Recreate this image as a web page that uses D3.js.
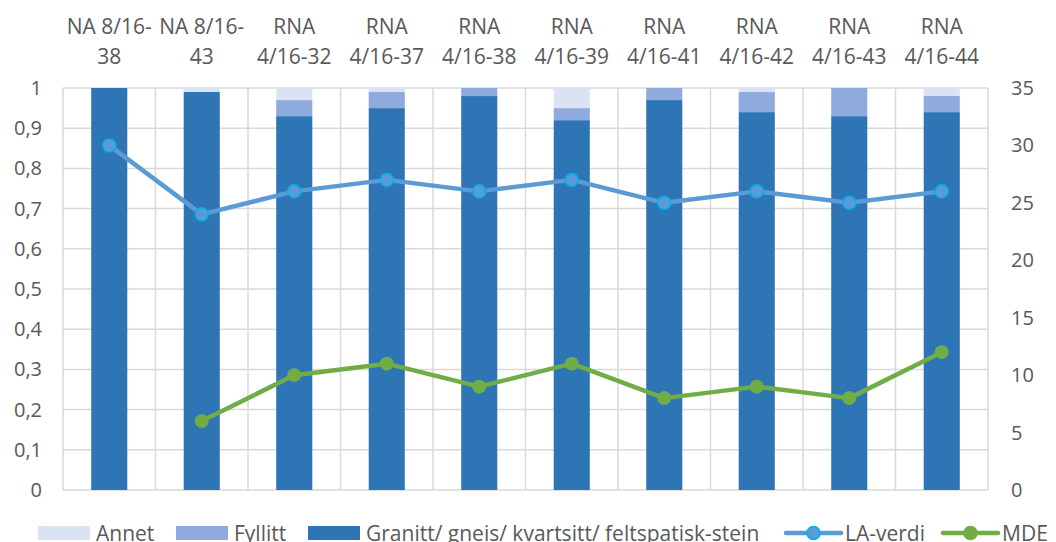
<!DOCTYPE html>
<html>
<head>
<meta charset="utf-8">
<script src="https://cdn.jsdelivr.net/npm/d3@7"></script>
<style>
  body { margin: 0; background: #fff; }
  svg text { font-family: "Open Sans", "Noto Sans", sans-serif; fill: #595959; }
</style>
</head>
<body>
<div id="chart"></div>
<script>
const categories = ['NA 8/16-38', 'NA 8/16-43', 'RNA 4/16-32', 'RNA 4/16-37', 'RNA 4/16-38',
  'RNA 4/16-39', 'RNA 4/16-41', 'RNA 4/16-42', 'RNA 4/16-43', 'RNA 4/16-44']
const labelLines = [['NA 8/16-', '38'], ['NA 8/16-', '43'], ['RNA', '4/16-32'], ['RNA', '4/16-37'],
  ['RNA', '4/16-38'], ['RNA', '4/16-39'], ['RNA', '4/16-41'], ['RNA', '4/16-42'], ['RNA', '4/16-43'], ['RNA', '4/16-44']]

const granitt = [1.0, 0.99, 0.93, 0.95, 0.98, 0.92, 0.97, 0.94, 0.93, 0.94]
const fyllitt = [0, 0, 0.04, 0.04, 0.02, 0.03, 0.03, 0.05, 0.07, 0.04]
const annet = [0, 0.01, 0.03, 0.01, 0, 0.05, 0, 0.01, 0, 0.02]
const laVerdi = [30, 24, 26, 27, 26, 27, 25, 26, 25, 26]
const mde = [null, 6, 10, 11, 9, 11, 8, 9, 8, 12]

const leftTicks = [0, 0.1, 0.2, 0.3, 0.4, 0.5, 0.6, 0.7, 0.8, 0.9, 1]
const rightTicks = [0, 5, 10, 15, 20, 25, 30, 35]

const width = 1056, height = 542
const margin = { top: 88, right: 68, bottom: 52, left: 63 }

const svg = d3.select('#chart').append('svg')
  .attr('width', width)
  .attr('height', height)

const x = d3.scaleBand()
  .domain(categories)
  .range([margin.left, width - margin.right])
  .paddingInner(0.61)
  .paddingOuter(0.305)

const bands = d3.scaleBand()
  .domain(categories)
  .range([margin.left, width - margin.right])

const y = d3.scaleLinear().domain([0, 1]).range([height - margin.bottom, margin.top])
const y2 = d3.scaleLinear().domain([0, 35]).range([height - margin.bottom, margin.top])

const grid = svg.append('g')
grid.selectAll('.h')
  .data(leftTicks)
  .enter()
  .append('line')
  .attr('x1', margin.left)
  .attr('x2', width - margin.right)
  .attr('y1', d => y(d))
  .attr('y2', d => y(d))
  .attr('stroke', '#d9d9d9')
  .attr('stroke-width', 1.5)

const bounds = categories.map(c => bands(c)).concat([width - margin.right])
grid.selectAll('.v')
  .data(bounds)
  .enter()
  .append('line')
  .attr('x1', d => d)
  .attr('x2', d => d)
  .attr('y1', margin.top)
  .attr('y2', y(0))
  .attr('stroke', '#d9d9d9')
  .attr('stroke-width', 1.5)

// stacked bars
const rows = categories.map((c, i) => ({ cat: c, granitt: granitt[i], fyllitt: fyllitt[i], annet: annet[i] }))
const keys = ['granitt', 'fyllitt', 'annet']
const colors = { granitt: '#2e75b6', fyllitt: '#8faadc', annet: '#dae3f3' }
const stack = d3.stack().keys(keys)(rows)

svg.append('g').selectAll('g')
  .data(stack)
  .enter()
  .append('g')
  .attr('fill', d => colors[d.key])
  .selectAll('rect')
  .data(d => d)
  .enter()
  .append('rect')
  .attr('x', d => x(d.data.cat))
  .attr('width', x.bandwidth())
  .attr('y', d => y(d[1]))
  .attr('height', d => y(d[0]) - y(d[1]))

// axes labels
svg.append('g').selectAll('text')
  .data(leftTicks)
  .enter()
  .append('text')
  .attr('x', 42)
  .attr('y', d => y(d))
  .attr('dy', '0.35em')
  .attr('text-anchor', 'end')
  .style('font-size', '20px')
  .text(d => d3.format('.1f')(d).replace('.', ',').replace(/^0,0$/, '0').replace(/^1,0$/, '1'))

svg.append('g').selectAll('text')
  .data(rightTicks)
  .enter()
  .append('text')
  .attr('x', 1011)
  .attr('y', d => y2(d))
  .attr('dy', '0.35em')
  .attr('text-anchor', 'start')
  .style('font-size', '20px')
  .text(d => d)

// category labels on top
const topLabels = svg.append('g')
categories.forEach((c, i) => {
  const t = topLabels.append('text')
    .attr('x', bands(c) + bands.bandwidth() / 2)
    .attr('text-anchor', 'middle')
    .style('font-size', '21px')
  labelLines[i].forEach((l, j) => {
    t.append('tspan')
      .attr('x', bands(c) + bands.bandwidth() / 2)
      .attr('y', 34 + j * 29.5)
      .text(l)
  })
})

// lines
const cx = c => x(c) + x.bandwidth() / 2

const laLine = d3.line()
  .x((d, i) => cx(categories[i]))
  .y(d => y2(d))

svg.append('path')
  .attr('d', laLine(laVerdi))
  .attr('fill', 'none')
  .attr('stroke', '#5b9bd5')
  .attr('stroke-width', 4.5)
  .attr('stroke-linejoin', 'round')

svg.append('g').selectAll('circle')
  .data(laVerdi)
  .enter()
  .append('circle')
  .attr('cx', (d, i) => cx(categories[i]))
  .attr('cy', d => y2(d))
  .attr('r', 6.5)
  .attr('fill', '#5b9bd5')
  .attr('stroke', '#00b0f0')
  .attr('stroke-width', 1.5)

const mdeLine = d3.line()
  .defined(d => d != null)
  .x((d, i) => cx(categories[i]))
  .y(d => y2(d))

svg.append('path')
  .attr('d', mdeLine(mde))
  .attr('fill', 'none')
  .attr('stroke', '#70ad47')
  .attr('stroke-width', 4.5)
  .attr('stroke-linejoin', 'round')

svg.append('g').selectAll('circle')
  .data(mde.map((v, i) => ({ v, i })).filter(d => d.v != null))
  .enter()
  .append('circle')
  .attr('cx', d => cx(categories[d.i]))
  .attr('cy', d => y2(d.v))
  .attr('r', 7)
  .attr('fill', '#70ad47')

// legend
const legend = svg.append('g')
const swatches = [
  { name: 'Annet', color: '#dae3f3', x: 38 },
  { name: 'Fyllitt', color: '#8faadc', x: 176 },
  { name: 'Granitt/ gneis/ kvartsitt/ feltspatisk-stein', color: '#2e75b6', x: 308 }
]
swatches.forEach(s => {
  legend.append('rect')
    .attr('x', s.x).attr('y', 526).attr('width', 52).attr('height', 14)
    .attr('fill', s.color)
  legend.append('text')
    .attr('x', s.x + 58).attr('y', 541)
    .style('font-size', '21px')
    .text(s.name)
})

const lineItems = [
  { name: 'LA-verdi', color: '#5b9bd5', stroke: '#00b0f0', x: 786 },
  { name: 'MDE', color: '#70ad47', stroke: '#70ad47', x: 943 }
]
lineItems.forEach(s => {
  legend.append('line')
    .attr('x1', s.x).attr('x2', s.x + 55)
    .attr('y1', 533).attr('y2', 533)
    .attr('stroke', s.color).attr('stroke-width', 4.5).attr('stroke-linecap', 'round')
  legend.append('circle')
    .attr('cx', s.x + 27.5).attr('cy', 533).attr('r', 6.5)
    .attr('fill', s.color).attr('stroke', s.stroke).attr('stroke-width', 1.5)
  legend.append('text')
    .attr('x', s.x + 59).attr('y', 541)
    .style('font-size', '21px')
    .text(s.name)
})
</script>
</body>
</html>
